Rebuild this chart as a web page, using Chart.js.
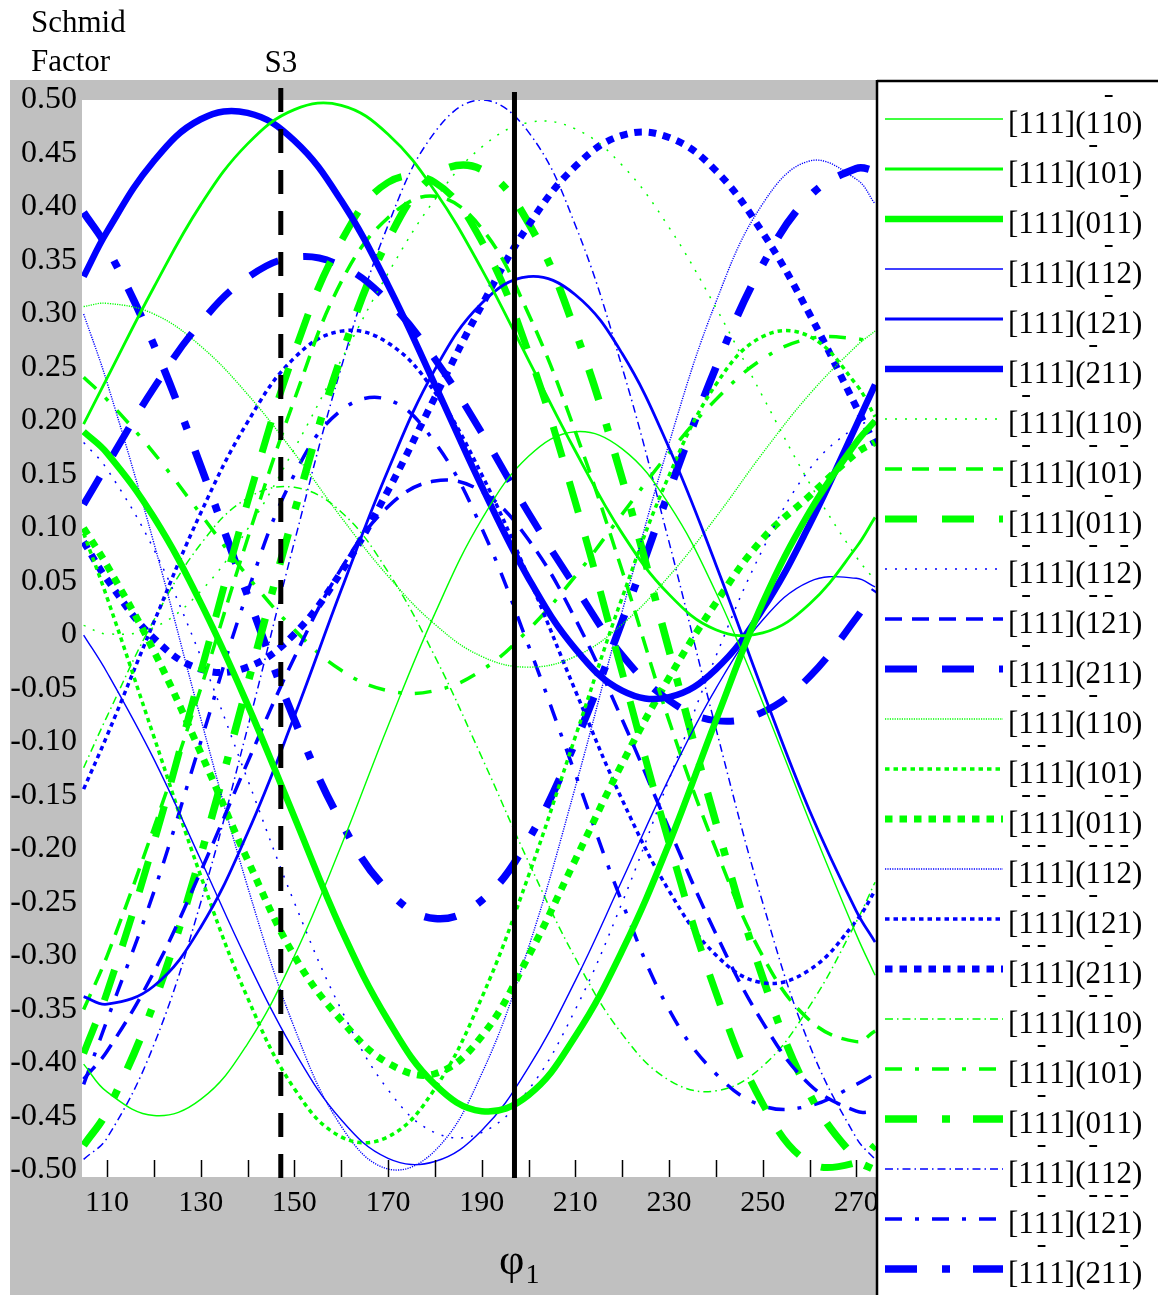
<!DOCTYPE html>
<html>
<head>
<meta charset="utf-8">
<script src="https://cdn.jsdelivr.net/npm/chart.js@4.4.0/dist/chart.umd.min.js"></script>
<style>
  html, body { margin: 0; padding: 0; background: #fff; }
  #wrap { position: relative; width: 1158px; height: 1295px; }
</style>
</head>
<body>
<div id="wrap"><canvas id="chart"></canvas></div>
<script>
// φ1 sample positions (degrees)
const phi = [105, 110, 120, 130, 140, 150, 160, 170, 180, 190, 200, 210, 220, 230, 240, 250, 260, 270, 274];

// Schmid factor, one array per slip system
const s01 = [-0.401, -0.427, -0.449, -0.434, -0.382, -0.30, -0.197, -0.085, 0.02, 0.108, 0.167, 0.19, 0.174, 0.122, 0.04, -0.063, -0.174, -0.28, -0.318];
const s02 = [0.197, 0.24, 0.325, 0.402, 0.459, 0.491, 0.495, 0.468, 0.415, 0.342, 0.257, 0.172, 0.095, 0.038, 0.005, 0.002, 0.029, 0.082, 0.11];
const s03 = [0.19, 0.17, 0.11, 0.03, -0.065, -0.17, -0.275, -0.36, -0.42, -0.445, -0.43, -0.375, -0.295, -0.195, -0.08, 0.03, 0.115, 0.18, 0.20];
const s04 = [0.0, -0.035, -0.116, -0.21, -0.305, -0.389, -0.453, -0.489, -0.492, -0.463, -0.404, -0.323, -0.229, -0.134, -0.05, 0.014, 0.05, 0.053, 0.045];
const s05 = [-0.338, -0.345, -0.328, -0.273, -0.185, -0.076, 0.042, 0.154, 0.248, 0.31, 0.335, 0.318, 0.263, 0.175, 0.066, -0.052, -0.164, -0.258, -0.287];
const s06 = [0.335, 0.377, 0.443, 0.482, 0.488, 0.462, 0.406, 0.327, 0.234, 0.139, 0.053, -0.013, -0.052, -0.058, -0.032, 0.024, 0.103, 0.196, 0.234];
const s07 = [0.009, 0.001, 0.007, 0.041, 0.099, 0.174, 0.257, 0.338, 0.407, 0.456, 0.479, 0.473, 0.439, 0.381, 0.306, 0.223, 0.142, 0.073, 0.051];
const s08 = [-0.35, -0.30, -0.18, -0.05, 0.09, 0.22, 0.33, 0.39, 0.41, 0.38, 0.30, 0.19, 0.06, -0.08, -0.20, -0.30, -0.36, -0.38, -0.37];
const s09 = [-0.391, -0.334, -0.194, -0.035, 0.124, 0.264, 0.368, 0.423, 0.423, 0.368, 0.264, 0.124, -0.035, -0.194, -0.334, -0.438, -0.493, -0.493, -0.477];
const s10 = [0.18, 0.155, 0.08, -0.02, -0.135, -0.25, -0.35, -0.425, -0.465, -0.465, -0.425, -0.35, -0.25, -0.135, -0.02, 0.08, 0.155, 0.195, 0.20];
const s11 = [-0.415, -0.389, -0.315, -0.221, -0.119, -0.021, 0.062, 0.12, 0.144, 0.134, 0.089, 0.015, -0.079, -0.181, -0.279, -0.362, -0.42, -0.445, -0.445];
const s12 = [0.122, 0.159, 0.231, 0.292, 0.334, 0.353, 0.345, 0.312, 0.258, 0.189, 0.114, 0.045, -0.019, -0.061, -0.08, -0.072, -0.039, 0.016, 0.042];
const s13 = [0.307, 0.31, 0.30, 0.27, 0.225, 0.17, 0.11, 0.055, 0.01, -0.02, -0.03, -0.02, 0.01, 0.055, 0.11, 0.17, 0.225, 0.27, 0.284];
const s14 = [0.095, 0.035, -0.095, -0.225, -0.339, -0.424, -0.469, -0.469, -0.424, -0.339, -0.225, -0.095, 0.035, 0.149, 0.234, 0.279, 0.279, 0.234, 0.204];
const s15 = [0.10, 0.065, -0.015, -0.11, -0.21, -0.30, -0.36, -0.40, -0.41, -0.375, -0.30, -0.21, -0.12, -0.04, 0.03, 0.09, 0.13, 0.17, 0.18];
const s16 = [0.30, 0.236, 0.086, -0.078, -0.235, -0.367, -0.459, -0.499, -0.482, -0.41, -0.292, -0.142, 0.022, 0.179, 0.311, 0.403, 0.443, 0.426, 0.403];
const s17 = [-0.144, -0.094, 0.012, 0.114, 0.199, 0.259, 0.284, 0.273, 0.227, 0.15, 0.054, -0.052, -0.154, -0.239, -0.299, -0.325, -0.313, -0.267, -0.239];
const s18 = [0.087, 0.052, -0.003, -0.032, -0.03, 0.001, 0.059, 0.135, 0.222, 0.308, 0.383, 0.438, 0.467, 0.465, 0.434, 0.376, 0.30, 0.213, 0.178];
const s19 = [-0.124, -0.076, 0.014, 0.085, 0.128, 0.138, 0.115, 0.059, -0.02, -0.114, -0.212, -0.302, -0.373, -0.416, -0.426, -0.403, -0.347, -0.268, -0.231];
const s20 = [0.241, 0.22, 0.17, 0.113, 0.055, 0.005, -0.033, -0.052, -0.052, -0.033, 0.005, 0.055, 0.113, 0.17, 0.22, 0.258, 0.277, 0.277, 0.272];
const s21 = [-0.477, -0.445, -0.344, -0.206, -0.046, 0.115, 0.26, 0.369, 0.43, 0.435, 0.385, 0.284, 0.146, -0.014, -0.175, -0.32, -0.429, -0.49, -0.50];
const s22 = [-0.49, -0.47, -0.383, -0.25, -0.087, 0.087, 0.25, 0.383, 0.47, 0.50, 0.47, 0.383, 0.25, 0.087, -0.087, -0.25, -0.383, -0.47, -0.49];
const s23 = [-0.42, -0.36, -0.24, -0.10, 0.04, 0.15, 0.21, 0.22, 0.18, 0.10, -0.01, -0.13, -0.25, -0.35, -0.41, -0.44, -0.44, -0.42, -0.41];
const s24 = [0.395, 0.362, 0.271, 0.158, 0.037, -0.079, -0.175, -0.239, -0.265, -0.248, -0.191, -0.10, 0.013, 0.134, 0.25, 0.346, 0.41, 0.436, 0.434];

const series = [s01, s02, s03, s04, s05, s06, s07, s08, s09, s10, s11, s12,
                s13, s14, s15, s16, s17, s18, s19, s20, s21, s22, s23, s24];

// legend text; barred = indices of characters that carry an overbar
const labels = ['[111](110)', '[111](101)', '[111](011)', '[111](112)', '[111](121)', '[111](211)',
                '[111](110)', '[111](101)', '[111](011)', '[111](112)', '[111](121)', '[111](211)',
                '[111](110)', '[111](101)', '[111](011)', '[111](112)', '[111](121)', '[111](211)',
                '[111](110)', '[111](101)', '[111](011)', '[111](112)', '[111](121)', '[111](211)'];
const barred = [[7], [6], [8], [7], [7], [6],
                [1], [1, 6, 8], [1, 7], [1, 6, 8], [1, 6, 7], [1],
                [1, 2, 6], [1, 2], [1, 2, 7, 8], [1, 2, 6, 7, 8], [1, 2, 6], [1, 2, 7],
                [2, 6, 7], [2, 8], [2], [2, 6], [2, 6, 7, 8], [2, 8]];

const GREEN = '#00ff00';
const BLUE = '#0000ff';

// line styles: 12 styles, each used for a green then blue triplet
const styles = [
  { w: 1.4, dash: [] },                 // thin solid
  { w: 2.8, dash: [] },                 // medium solid
  { w: 6.5, dash: [] },                 // thick solid
  { w: 1.5, dash: [2, 8] },             // thin dotted
  { w: 3.5, dash: [17, 10] },           // medium dashed
  { w: 7, dash: [32, 25] },             // thick dashed
  { w: 1.4, dash: [1.2, 1.2] },         // fine dotted
  { w: 3.5, dash: [4.5, 4] },           // medium dotted
  { w: 7, dash: [7.5, 7] },             // thick dotted
  { w: 1.5, dash: [8, 4, 1.5, 4] },     // thin dash-dot
  { w: 3.5, dash: [17, 13, 4, 13] },    // medium dash-dot
  { w: 7.5, dash: [32, 25, 8, 23] }     // thick dash-dot
];

function styleOf(i) {
  const group = Math.floor(i / 6);
  const inGroup = i % 6;
  const colour = inGroup < 3 ? GREEN : BLUE;
  const st = styles[group * 3 + (inGroup % 3)];
  return { colour, w: st.w, dash: st.dash };
}

const datasets = series.map((vals, i) => {
  const st = styleOf(i);
  return {
    label: labels[i],
    data: vals.map((v, k) => ({ x: phi[k], y: v })),
    borderColor: st.colour,
    borderWidth: st.w,
    borderDash: st.dash,
    pointRadius: 0,
    tension: 0.4,
    fill: false
  };
});

const SERIF = "'Liberation Serif', 'Times New Roman', serif";

const framePlugin = {
  id: 'frame',
  beforeDraw(chart) {
    const { ctx, chartArea: a } = chart;
    ctx.save();
    ctx.fillStyle = '#ffffff';
    ctx.fillRect(0, 0, chart.width, chart.height);
    ctx.fillStyle = '#c0c0c0';
    ctx.fillRect(10, 80, a.right - 10, chart.height - 80);
    ctx.restore();
  },
  beforeDatasetsDraw(chart) {
    // white plot area painted after the axis labels, so they look cut at the edge
    const { ctx, chartArea: a } = chart;
    ctx.save();
    ctx.fillStyle = '#ffffff';
    ctx.fillRect(a.left, a.top, a.right - a.left, a.bottom - a.top);
    ctx.restore();
  },
  afterDraw(chart) {
    const { ctx, chartArea: a, scales } = chart;
    const xs = scales.x;
    ctx.save();

    // small tick marks along the bottom, every 10 degrees
    ctx.strokeStyle = '#000';
    ctx.lineWidth = 1.5;
    for (let v = 110; v <= 270; v += 10) {
      const px = Math.round(xs.getPixelForValue(v)) + 0.5;
      ctx.beginPath();
      ctx.moveTo(px, a.bottom - 17);
      ctx.lineTo(px, a.bottom);
      ctx.stroke();
    }

    // S3 marker (dashed) and the solid reference line
    const xS3 = xs.getPixelForValue(147.1);
    ctx.lineWidth = 5;
    ctx.setLineDash([24, 17]);
    ctx.beginPath();
    ctx.moveTo(xS3, 88);
    ctx.lineTo(xS3, 1195);
    ctx.stroke();
    ctx.setLineDash([]);
    const xRef = xs.getPixelForValue(197.0);
    ctx.beginPath();
    ctx.moveTo(xRef, 92);
    ctx.lineTo(xRef, a.bottom + 1);
    ctx.stroke();

    // texts
    ctx.fillStyle = '#000';
    ctx.font = '31px ' + SERIF;
    ctx.textBaseline = 'alphabetic';
    ctx.textAlign = 'left';
    ctx.fillText('Schmid', 31, 32);
    ctx.fillText('Factor', 31, 71);
    ctx.textAlign = 'center';
    ctx.fillText('S3', xS3, 72);
    ctx.textAlign = 'left';
    ctx.font = '44px ' + SERIF;
    ctx.fillText('φ', 499, 1274);
    const fw = ctx.measureText('φ').width;
    ctx.font = '28px ' + SERIF;
    ctx.fillText('1', 499 + fw + 1, 1283);

    // legend box
    const lx = a.right + 1;
    ctx.lineWidth = 2.5;
    ctx.beginPath();
    ctx.moveTo(lx, 80);
    ctx.lineTo(lx, chart.height);
    ctx.moveTo(lx, 81);
    ctx.lineTo(chart.width, 81);
    ctx.stroke();

    ctx.font = '31px ' + SERIF;
    for (let i = 0; i < labels.length; i++) {
      const st = styleOf(i);
      const y = 119 + 50 * i;
      ctx.strokeStyle = st.colour;
      ctx.lineWidth = st.w;
      ctx.setLineDash(st.dash);
      ctx.lineCap = 'butt';
      ctx.beginPath();
      ctx.moveTo(885, y);
      ctx.lineTo(1003, y);
      ctx.stroke();
      ctx.setLineDash([]);

      // label, character by character so the overbars can sit on the right digits
      let tx = 1008;
      const text = labels[i];
      for (let c = 0; c < text.length; c++) {
        const ch = text[c];
        const w = ctx.measureText(ch).width;
        ctx.fillStyle = '#000';
        ctx.fillText(ch, tx, y + 14);
        if (barred[i].includes(c)) {
          ctx.strokeStyle = '#000';
          ctx.lineWidth = 2;
          ctx.beginPath();
          ctx.moveTo(tx + w * 0.25, y - 23);
          ctx.lineTo(tx + w * 0.75, y - 23);
          ctx.stroke();
        }
        tx += w;
      }
    }
    ctx.restore();
  }
};

const ctx = document.getElementById('chart').getContext('2d');
new Chart(ctx, {
  type: 'line',
  data: { datasets },
  options: {
    responsive: true,
    maintainAspectRatio: false,
    animation: false,
    layout: { padding: { left: 10, right: 282, top: 100, bottom: 0 } },
    plugins: { legend: { display: false }, tooltip: { enabled: false } },
    scales: {
      x: {
        type: 'linear',
        min: 104.65,
        max: 274.2,
        afterFit(scale) { scale.height = 118; },
        grid: { display: false },
        border: { display: false },
        ticks: {
          stepSize: 10,
          includeBounds: false,
          autoSkip: false,
          maxRotation: 0,
          padding: 0,
          color: '#000',
          font: { family: SERIF, size: 30 },
          callback: (v) => (Math.round(v) % 20 === 10 ? String(Math.round(v)) : '')
        }
      },
      y: {
        min: -0.5065,
        max: 0.5,
        afterFit(scale) { scale.width = 72; },
        grid: { display: false },
        border: { display: false },
        ticks: {
          stepSize: 0.05,
          includeBounds: false,
          autoSkip: false,
          padding: -3,
          color: '#000',
          font: { family: SERIF, size: 32 },
          callback: (v) => (Math.abs(v) < 1e-9 ? '0' : v.toFixed(2))
        }
      }
    }
  },
  plugins: [framePlugin]
});
</script>
</body>
</html>
